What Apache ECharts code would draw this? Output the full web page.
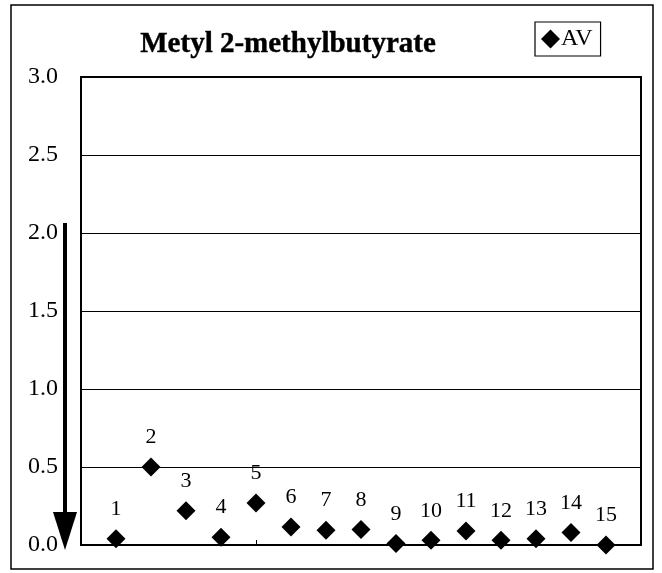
<!DOCTYPE html>
<html>
<head>
<meta charset="utf-8">
<script src="https://cdn.jsdelivr.net/npm/echarts@6/dist/echarts.min.js"></script>
<style>
html,body{margin:0;padding:0;background:#fff;}
#chart{width:662px;height:573px;}
</style>
</head>
<body>
<div id="chart"></div>
<script>
const titleText = 'Metyl 2-methylbutyrate';
const seriesName = 'AV';
const categories = ['1','2','3','4','5','6','7','8','9','10','11','12','13','14','15'];
const xPositions = [1,2,3,4,5,6,7,8,9,10,11,12,13,14,15];
const avValues = [0.04,0.50,0.22,0.05,0.27,0.115,0.095,0.10,0.01,0.03,0.09,0.03,0.04,0.08,0.0];
const yTicks = [0.0,0.5,1.0,1.5,2.0,2.5,3.0];

const FONT = '"Liberation Serif", "DejaVu Serif", serif';
const data = xPositions.map((x,i)=>({value:[x, avValues[i]], name: categories[i]}));

const chart = echarts.init(document.getElementById('chart'), null, {renderer:'canvas'});
chart.setOption({
  animation:false,
  backgroundColor:'#fff',
  title:{
    text:titleText,
    left:283, top:25, textAlign:'center',
    textStyle:{fontFamily:FONT, fontWeight:'bold', fontSize:29, color:'#000', textBorderColor:'#000', textBorderWidth:0.4}
  },
  legend:{
    left:535, top:22,
    data:[{name:seriesName, icon:'diamond'}],
    itemWidth:19, itemHeight:19, itemGap:0,
    borderColor:'#000', borderWidth:1.2,
    padding:[5,8,5,6],
    itemStyle:{color:'#000', opacity:1},
    textStyle:{fontFamily:FONT, fontSize:24, color:'#000', padding:[0,0,0,-4]}
  },
  grid:{left:81, right:21, top:77, bottom:28, show:true, borderColor:'#000', borderWidth:2, backgroundColor:'transparent'},
  xAxis:{
    type:'value', min:0, max:16, interval:5,
    axisLine:{show:true, lineStyle:{color:'#000', width:2}},
    axisTick:{show:true, inside:true, length:5, lineStyle:{color:'#000'}},
    axisLabel:{show:false},
    splitLine:{show:false}
  },
  yAxis:{
    type:'value', min:yTicks[0], max:yTicks[yTicks.length-1], interval:0.5,
    axisLine:{show:true, lineStyle:{color:'#000', width:2}},
    axisTick:{show:false},
    axisLabel:{margin:23, fontFamily:FONT, fontSize:24, color:'#000', formatter:v=>v.toFixed(1)},
    splitLine:{show:true, lineStyle:{color:'#000', width:1}}
  },
  series:[{
    name:seriesName, type:'scatter', symbol:'diamond', symbolSize:19,
    itemStyle:{color:'#000', opacity:1},
    data:data,
    label:{show:true, position:'top', distance:9, formatter:p=>p.name,
      fontFamily:FONT, fontSize:22, color:'#000', opacity:1}
  }],
  graphic:[
    {type:'rect', z:-10, shape:{x:11, y:5, width:642, height:564}, style:{fill:'none', stroke:'#000', lineWidth:1.5}},
    {type:'line', shape:{x1:65, y1:223, x2:65, y2:515}, style:{stroke:'#000', lineWidth:4}},
    {type:'polygon', shape:{points:[[53,512],[77,512],[65,550]]}, style:{fill:'#000'}}
  ]
});
</script>
</body>
</html>
